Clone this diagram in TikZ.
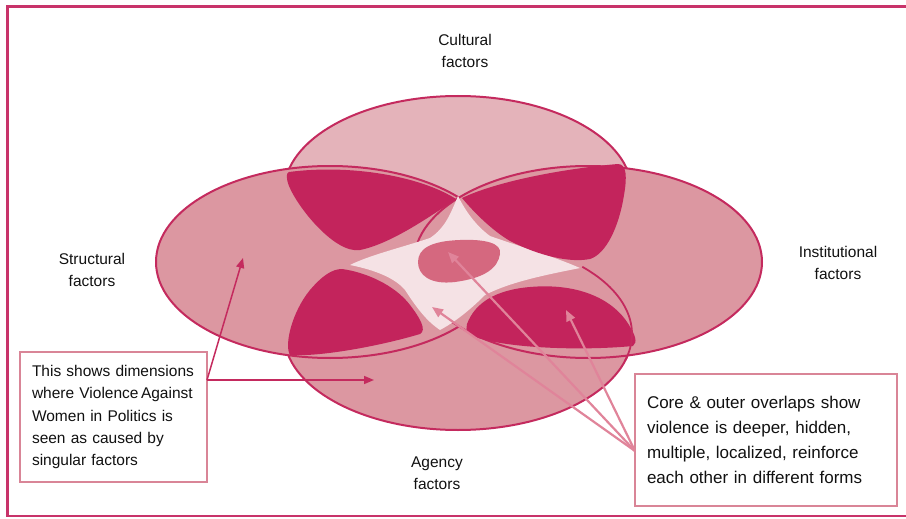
\documentclass[tikz,border=0pt]{standalone}
\usepackage{fontspec}
\setmainfont{Liberation Sans}
\usetikzlibrary{arrows.meta}
\definecolor{frameC}{HTML}{C8336A}
\definecolor{outlineC}{HTML}{C42A5E}
\definecolor{topfill}{HTML}{E4B3BA}
\definecolor{sidefill}{HTML}{DC97A1}
\definecolor{petalC}{HTML}{C3245C}
\definecolor{starC}{HTML}{F5E2E5}
\definecolor{blobC}{HTML}{D5687F}
\definecolor{boxC}{HTML}{D98597}
\definecolor{rarrowC}{HTML}{E0849A}
\definecolor{txtC}{HTML}{111111}
\tikzset{
  ellfill/.style={fill=#1, draw=outlineC, line width=2pt},
  petal/.style={fill=petalC, draw=none},
  lbl/.style={align=center, inner sep=0pt, text=txtC, font=\fontsize{15.5pt}{22.3pt}\selectfont},
  lboxst/.style={draw=boxC, line width=2pt, fill=white, minimum width=187pt, minimum height=130pt,
     text width=163pt, align=left, inner sep=0pt, text=txtC, font=\fontsize{15.5pt}{22.3pt}\selectfont},
  rboxst/.style={draw=boxC, line width=2pt, fill=white, minimum width=262pt, minimum height=132pt,
     text width=238pt, align=left, inner sep=0pt, text=txtC, font=\fontsize{17pt}{24.8pt}\selectfont},
  larrow/.style={draw=outlineC, line width=1.5pt, -{Triangle[length=10pt,width=8pt]}},
  rarrow/.style={draw=rarrowC, line width=2.2pt, -{Triangle[length=11pt,width=9pt]}},
}
\begin{document}
\begin{tikzpicture}[x=1pt,y=-1pt]
\useasboundingbox (0,0) rectangle (906,519);
% frame
\draw[frameC, line width=2.5pt] (912,6.5) -- (7.5,6.5) -- (7.5,516) -- (912,516);
% ellipses
\path[ellfill=topfill] (458,192) ellipse [x radius=174pt, y radius=96pt];
\path[ellfill=sidefill] (458,334) ellipse [x radius=174pt, y radius=96pt];
\path[ellfill=sidefill] (330,262) ellipse [x radius=174pt, y radius=96pt];
\path[ellfill=sidefill] (588,262) ellipse [x radius=174pt, y radius=96pt];
% light star
\fill[starC] (458,196) .. controls (450,215) and (445,228) .. (430,238)
  .. controls (400,248) and (370,255) .. (350,265)
  .. controls (375,270) and (395,278) .. (405,290)
  .. controls (415,305) and (425,320) .. (440,330)
  .. controls (455,322) and (470,310) .. (485,295)
  .. controls (510,282) and (545,275) .. (580,268)
  .. controls (550,255) and (515,245) .. (490,236)
  .. controls (475,225) and (465,210) .. (458,196) -- cycle;
% petals
\fill[petal] (289,172) .. controls (350,164) and (420,176) .. (456,199)
  .. controls (428,218) and (390,244) .. (360,250)
  .. controls (335,254) and (298,208) .. (289,186)
  .. controls (286,178) and (286,173) .. (289,172) -- cycle;
\fill[petal] (462,198) .. controls (500,180) and (570,168) .. (618,164)
  .. controls (627,164) and (627,178) .. (624,195)
  .. controls (619,227) and (606,254) .. (590,259)
  .. controls (570,263) and (540,256) .. (510,241)
  .. controls (490,229) and (472,210) .. (462,198) -- cycle;
\fill[petal] (342,269) .. controls (365,272) and (395,285) .. (410,305)
  .. controls (420,318) and (427,330) .. (420,334)
  .. controls (380,346) and (320,357) .. (290,355)
  .. controls (284,345) and (292,312) .. (310,290)
  .. controls (322,276) and (332,269) .. (342,269) -- cycle;
\fill[petal] (467,324) .. controls (475,303) and (495,290) .. (530,287)
  .. controls (575,283) and (612,297) .. (629,325)
  .. controls (635,335) and (638,342) .. (633,346)
  .. controls (580,351) and (510,348) .. (478,338)
  .. controls (468,335) and (465,330) .. (467,324) -- cycle;
% central blob
\fill[blobC] (418,262) .. controls (418,248) and (432,241) .. (460,240)
  .. controls (485,239) and (502,243) .. (500,254)
  .. controls (498,268) and (485,278) .. (455,282)
  .. controls (430,285) and (418,275) .. (418,262) -- cycle;
% visible arc of the agency ellipse
\draw[outlineC, line width=1.8pt] (582.3,266.8) arc [start angle=44.4, end angle=-16, x radius=174pt, y radius=96pt];
% labels
\node[lbl] (cult) at (465,51) {Cultural\\factors};
\node[lbl] (struc) at (92,270) {Structural\\factors};
\node[lbl] (inst) at (838,263) {Institutional\\factors};
\node[lbl] (agen) at (437,473) {Agency\\factors};
% boxes
\node[lboxst] (lbox) at (113.5,417) {\mbox{This shows dimensions}\\\mbox{where Violence\hspace{2.5pt}Against}\\\mbox{Women in Politics is}\\\mbox{seen as caused by}\\\mbox{singular factors}};
\node[rboxst] (rbox) at (766,440) {\mbox{Core \& outer overlaps show}\\\mbox{violence is deeper, hidden,}\\\mbox{multiple, localized, reinforce}\\\mbox{each other in different forms}};
% arrow anchors
\coordinate (ls) at (207,380);
\coordinate (tstruct) at (243,258);
\coordinate (tagency) at (374,380);
\coordinate (rs) at (635,451);
\coordinate (tcore) at (448,252);
\coordinate (tstar) at (432,307);
\coordinate (tpetal) at (566,310);
% arrows
\draw[larrow] (ls) -- (tstruct);
\draw[larrow] (ls) -- (tagency);
\draw[rarrow] (rs) -- (tcore);
\draw[rarrow] (rs) -- (tstar);
\draw[rarrow] (rs) -- (tpetal);
\end{tikzpicture}
\end{document}
